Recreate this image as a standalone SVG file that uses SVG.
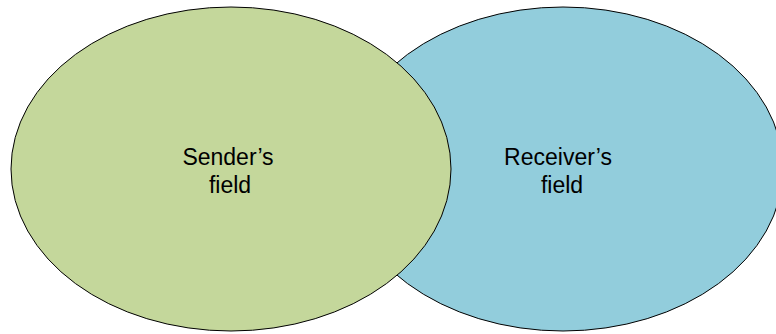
<svg xmlns="http://www.w3.org/2000/svg" width="776" height="334" viewBox="0 0 776 334">
  <style>
    .field { stroke: #000; stroke-width: 1; }
    .label { font-family: "Liberation Sans", Arial, sans-serif; font-size: 23px; fill: #000; text-anchor: middle; }
  </style>
  <rect width="776" height="334" fill="#fff"/>
  <!-- receiver drawn first so the sender's field overlaps it -->
  <g id="receiver">
    <ellipse class="field" cx="563" cy="169" rx="220" ry="162" fill="#92CDDC"/>
    <text class="label" x="558" y="165">Receiver’s</text>
    <text class="label" x="562" y="193">field</text>
  </g>
  <g id="sender">
    <ellipse class="field" cx="231" cy="169" rx="220" ry="162" fill="#C4D79B"/>
    <text class="label" x="228" y="165">Sender’s</text>
    <text class="label" x="230" y="193">field</text>
  </g>
  <g id="connectors"/>
</svg>
